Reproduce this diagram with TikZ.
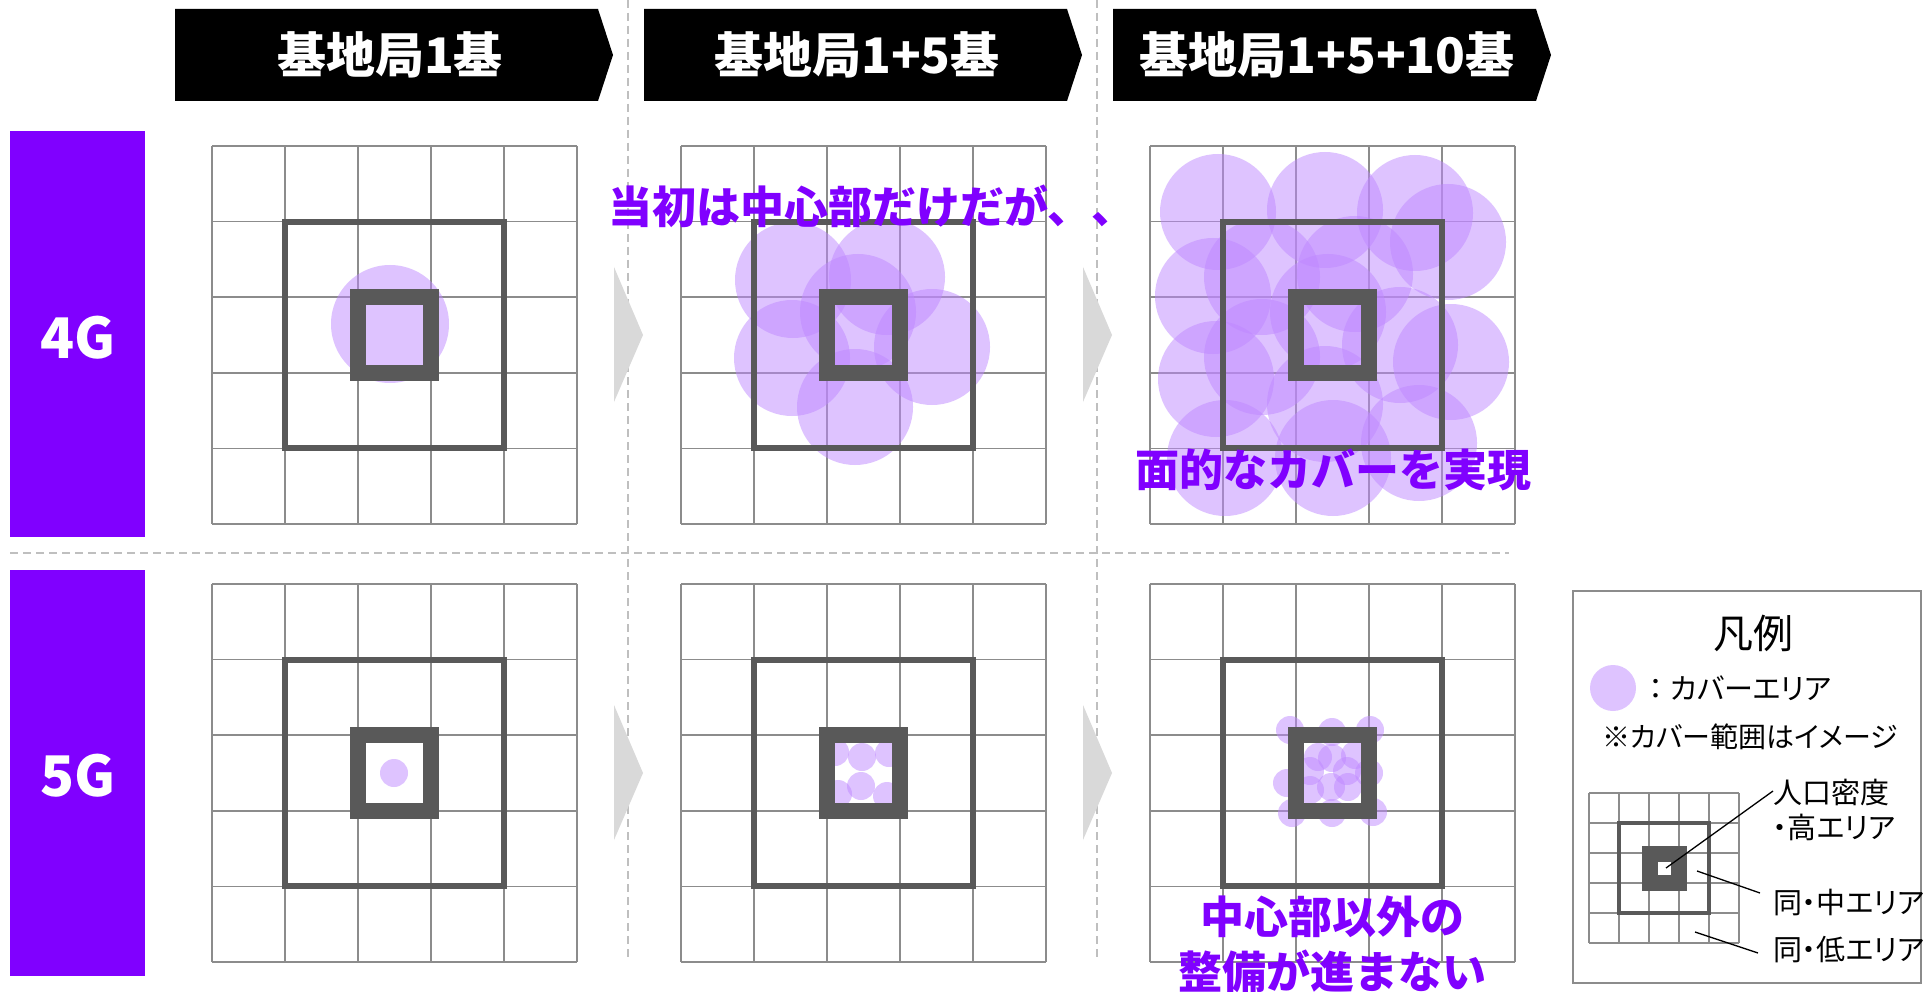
\documentclass[tikz,border=0pt]{standalone}
\usepackage{fontspec}
\setmainfont{Noto Sans CJK JP}
\newfontfamily\legfont[RawFeature=+palt]{Noto Sans CJK JP}
\definecolor{vio}{RGB}{128,0,255}
\definecolor{cov}{RGB}{191,136,255}
\definecolor{sqc}{RGB}{89,89,89}
\definecolor{glc}{RGB}{140,140,140}
\definecolor{dlc}{RGB}{191,191,191}
\definecolor{tric}{RGB}{217,217,217}
\newcommand\gridpanel[2]{%
  \foreach \i in {0,...,5} {\draw[gridline] ({#1+\i*73},#2) -- ({#1+\i*73},{#2+378});}
  \foreach \j in {0,...,5} {\draw[gridline] (#1,{#2+\j*75.6}) -- ({#1+365},{#2+\j*75.6});}
}
\newcommand\sqpanel[2]{%
  \draw[midsq] ({#1+73},{#2+75.6}) rectangle ({#1+292},{#2+302.4});
  \draw[censq] ({#1+146},{#2+151.2}) rectangle ({#1+219},{#2+226.8});
}
\begin{document}
\begin{tikzpicture}[x=1pt,y=-1pt,
  gridline/.style={draw=glc,line width=1.5pt},
  midsq/.style={draw=sqc,line width=6pt},
  censq/.style={draw=sqc,line width=16pt},
  cover/.style={fill=cov,fill opacity=0.5},
  sepline/.style={draw=dlc,line width=1.6pt,dash pattern=on 8pt off 5pt},
  hdrtext/.style={text=white,inner sep=0pt,font=\bfseries\fontsize{49pt}{52pt}\selectfont},
  bartext/.style={text=white,inner sep=0pt,font=\bfseries\fontsize{56pt}{60pt}\selectfont},
  bar/.style={fill=vio,inner sep=0pt,minimum width=135pt,minimum height=406pt},
  note/.style={text=vio,inner sep=0pt,align=center,font=\bfseries\fontsize{44pt}{55pt}\selectfont},
  leg/.style={inner sep=0pt,anchor=west,font=\legfont\fontsize{29pt}{33pt}\selectfont},
  legline/.style={draw=black,line width=1.3pt},
  arrowtri/.style={fill=tric}
]
\useasboundingbox (0,0) rectangle (1924,992);
\fill[white] (0,0) rectangle (1924,992);

% separators
\draw[sepline] (628,0) -- (628,960);
\draw[sepline] (1097,0) -- (1097,960);
\draw[sepline] (10,553) -- (1509,553);

% headers
\fill[black] (175,9) -- (598,9) -- (613,55) -- (598,101) -- (175,101) -- cycle;
\fill[black] (644,9) -- (1067,9) -- (1082,55) -- (1067,101) -- (644,101) -- cycle;
\fill[black] (1113,9) -- (1536,9) -- (1551,55) -- (1536,101) -- (1113,101) -- cycle;
\node[hdrtext] (h1) at (390,55) {基地局1基};
\node[hdrtext] (h2) at (857,55) {基地局1+5基};
\node[hdrtext] (h3) at (1327,55) {基地局1+5+10基};

% row bars
\node[bar] (b4) at (77.5,334) {};
\node[bartext] (t4) at (78,338) {4G};
\node[bar] (b5) at (77.5,773) {};
\node[bartext] (t5) at (78,776) {5G};

% grey arrows
\foreach \dx in {0,469} {
  \foreach \dy in {0,438} {
    \fill[arrowtri] ({614+\dx},{267+\dy}) -- ({643+\dx},{335+\dy}) -- ({614+\dx},{402+\dy}) -- cycle;
  }
}

% grids
\gridpanel{212}{146}
\gridpanel{681}{146}
\gridpanel{1150}{146}
\gridpanel{212}{584}
\gridpanel{681}{584}
\gridpanel{1150}{584}

% coverage 4G
\fill[cover] (390,324) circle[radius=59pt];
\foreach \p in {(793,280),(887,277),(858,312),(792,358),(932,347),(855,407)}
  {\fill[cover] \p circle[radius=58pt];}
\foreach \p in {(1218,212),(1325,210),(1415,213),(1448,242),(1213,296),(1262,277),(1355,274),(1328,312),
                (1262,357),(1400,345),(1451,362),(1216,379),(1225,458),(1325,404),(1333,458),(1419,443)}
  {\fill[cover] \p circle[radius=58pt];}

% coverage 5G
\fill[cover] (394,773) circle[radius=14pt];
\foreach \p in {(835,752),(862,757),(889,753),(838,794),(861,786),(887,796)}
  {\fill[cover] \p circle[radius=14pt];}
\foreach \p in {(1290,730),(1332,732),(1370,730),(1369,773),(1287,783),(1292,813),(1332,813),(1373,812),
                (1332,758),(1347,771),(1310,771),(1331,787),(1310,790),(1348,787),(1355,755),(1318,757)}
  {\fill[cover] \p circle[radius=14pt];}

% density squares
\sqpanel{212}{146}
\sqpanel{681}{146}
\sqpanel{1150}{146}
\sqpanel{212}{584}
\sqpanel{681}{584}
\sqpanel{1150}{584}

% notes
\node[note,anchor=west] (n1) at (608,206) {当初は中心部だけだが、、};
\node[note] (n2) at (1333,470) {面的なカバーを実現};
\node[note] (n3) at (1332,917) {中心部以外の};
\node[note] (n4) at (1332,971) {整備が進まない};

% legend
\draw[draw=glc,line width=1.5pt] (1573,591) rectangle (1921,983);
\node[inner sep=0pt,font=\legfont\fontsize{40pt}{44pt}\selectfont] (lt) at (1753,633) {凡例};
\fill[cov,fill opacity=0.5] (1613,688) circle[radius=23pt];
\node[leg] (lc) at (1641,688) {{\normalfont ：}カバーエリア};
\node[inner sep=0pt,font=\legfont\fontsize{28pt}{32pt}\selectfont] (ln) at (1750,737) {※カバー範囲はイメージ};
\foreach \i in {0,...,5} {\draw[draw=glc,line width=1.2pt] ({1589+\i*30},793) -- ({1589+\i*30},943);}
\foreach \j in {0,...,5} {\draw[draw=glc,line width=1.2pt] (1589,{793+\j*30}) -- (1739,{793+\j*30});}
\draw[draw=sqc,line width=3.5pt] (1619,823) rectangle (1709,913);
\fill[sqc] (1642,846) rectangle (1687,891);
\fill[white] (1658,862) rectangle (1671,875);
\node[leg] (l1) at (1773,793) {人口密度};
\node[leg] (l1b) at (1773,827) {・高エリア};
\node[leg] (l2) at (1773,903) {同・中エリア};
\node[leg] (l3) at (1773,950) {同・低エリア};
\coordinate (p1) at (1666,868);
\coordinate (q1) at (1773,791);
\coordinate (p2) at (1697,871);
\coordinate (q2) at (1760,893);
\coordinate (p3) at (1695,932);
\coordinate (q3) at (1758,953);
\draw[legline] (p1) -- (q1);
\draw[legline] (p2) -- (q2);
\draw[legline] (p3) -- (q3);
\end{tikzpicture}
\end{document}
